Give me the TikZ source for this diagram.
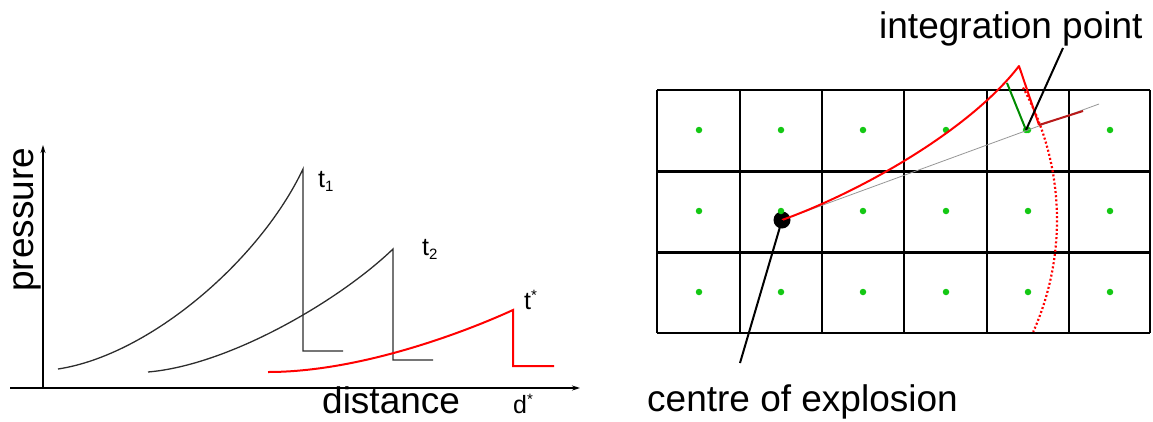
\documentclass[tikz,border=0pt]{standalone}
\usepackage{fontspec}
\setmainfont{Liberation Sans}
\usetikzlibrary{arrows.meta}
\definecolor{curvegray}{RGB}{45,45,45}
\definecolor{dotgreen}{RGB}{20,200,20}
\definecolor{linegreen}{RGB}{0,140,0}
\definecolor{darkred}{RGB}{185,25,25}
\definecolor{thingray}{RGB}{150,150,150}
\tikzset{
  biglabel/.style={inner sep=0pt, anchor=base west, font=\fontsize{37}{44}\selectfont},
  smalllabel/.style={inner sep=0pt, anchor=base west, font=\fontsize{25}{28}\selectfont},
  axisline/.style={line width=1.8pt, -{Stealth[length=8pt,width=5pt]}},
  blackcurve/.style={line width=1.3pt, curvegray},
  redcurve/.style={line width=2pt, red},
  gridline/.style={line width=2.5pt, black},
  pointer/.style={line width=2pt, black},
  gdot/.style={circle, fill=dotgreen, inner sep=0pt, minimum size=6.5pt},
}
\newcommand{\subsc}[1]{\raisebox{-4pt}{\fontsize{15}{15}\selectfont #1}}
\newcommand{\supsc}[1]{\raisebox{9pt}{\fontsize{15}{15}\selectfont #1}}
\begin{document}
\begin{tikzpicture}[x=1pt,y=1pt]
\useasboundingbox (0,0) rectangle (1153,-421);

% ---------------- left graph ----------------
\draw[axisline] (10,-388) -- (580,-388);
\draw[axisline] (43,-388) -- (43,-145);
\node[biglabel, rotate=90] (pr) at (33,-292) {pressure};
\node[biglabel] (di) at (322,-413) {distance};
\node[smalllabel] (ds) at (513,-413) {d\supsc{*}};

\draw[blackcurve] (58,-369) .. controls (150,-355) and (260,-260) .. (303,-169) -- (303,-351) -- (343,-351);
\draw[blackcurve] (148,-372) .. controls (230,-365) and (340,-300) .. (393,-249) -- (393,-360) -- (433,-360);
\draw[redcurve] (268,-372) .. controls (360,-372) and (465,-332) .. (513,-310) -- (513,-366) -- (554,-366);

\node[smalllabel] (t1) at (318,-187) {t\subsc{1}};
\node[smalllabel] (t2) at (422,-255) {t\subsc{2}};
\node[smalllabel] (ts) at (524,-309) {t\supsc{*}};

% ---------------- right grid ----------------
\foreach \x in {657,740,822,904,987,1069,1150}
  \draw[gridline] (\x,-90) -- (\x,-333);
\draw[gridline] (657,-90) -- (1150,-90);
\draw[gridline] (657,-333) -- (1150,-333);
\draw[gridline, line width=3pt] (657,-171) -- (1150,-171);
\draw[gridline, line width=3pt] (657,-252) -- (1150,-252);

% explosion centre
\node[circle, fill=black, inner sep=0pt, minimum size=17pt] (ce) at (782,-220) {};

\foreach \x in {699,781,863,946,1028,1110}
  \foreach \y in {-130,-211,-292}
    \node[gdot] at (\x,\y) {};
\node[gdot] (ip) at (1026,-130) {};

% thin gray ray
\coordinate (rayend) at (1099,-104);
\draw[thingray, line width=0.8pt] (ce.center) -- (rayend);

% dotted arc centred on explosion
\draw[red, line width=2.2pt, dash pattern=on 2pt off 2.2pt]
  (ce.center) ++(28.8:275pt) arc[start angle=28.8, end angle=-24, radius=275pt];

% red wave front
\coordinate (peak) at (1019,-66);
\coordinate (foot) at (1039,-125);
\coordinate (tail) at (1083,-111);
\draw[redcurve, line join=round] (ce.center) .. controls (860,-192) and (970,-130) .. (peak) -- (foot);
\draw[darkred, line width=2pt] (foot) -- (tail);

% green segment
\coordinate (gtop) at (1007,-83);
\draw[linegreen, line width=2pt] (gtop) -- (ip.center);

% labels and pointers
\node[biglabel] (il) at (879,-38) {integration point};
\coordinate (ilp) at (1063,-48);
\draw[pointer] (ip.center) -- (ilp);

\node[biglabel] (cl) at (647,-411) {centre of explosion};
\coordinate (clp) at (740,-363);
\draw[pointer] (ce.center) -- (clp);
\end{tikzpicture}
\end{document}
